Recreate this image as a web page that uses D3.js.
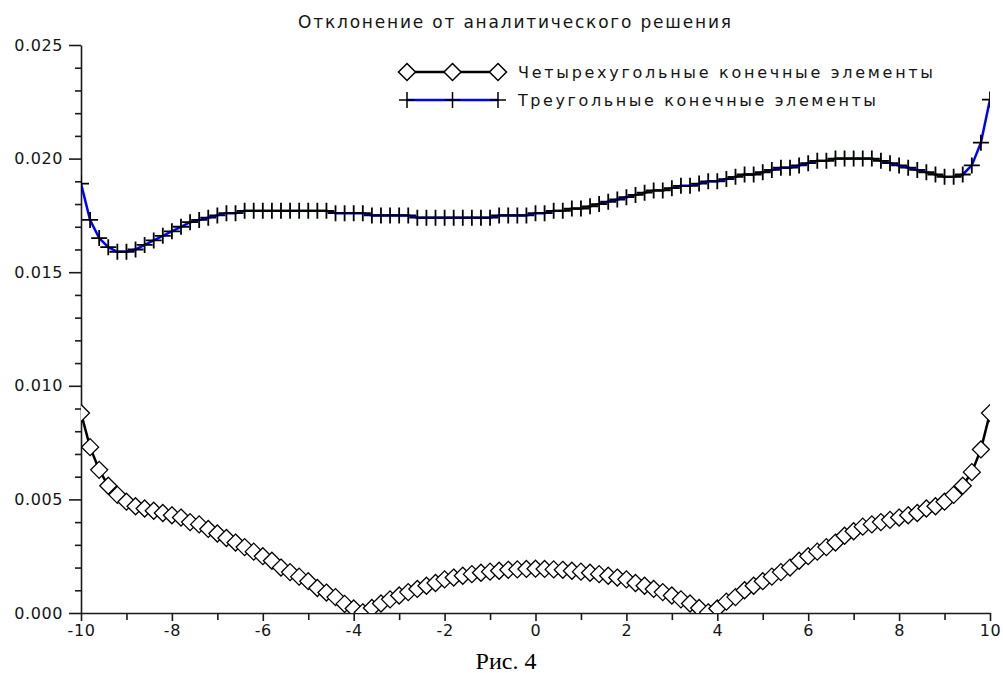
<!DOCTYPE html>
<html>
<head>
<meta charset="utf-8">
<script src="https://cdn.jsdelivr.net/npm/d3@7"></script>
<style>
    body { margin: 0; background: #fff; }
    svg { display: block; }
</style>
</head>
<body>
<div id="chart"></div>
<script>
// x points of the mesh (step 0.2)
const xs = [
    -10, -9.8, -9.6, -9.4, -9.2, -9, -8.8, -8.6, -8.4, -8.2,
    -8, -7.8, -7.6, -7.4, -7.2, -7, -6.8, -6.6, -6.4, -6.2,
    -6, -5.8, -5.6, -5.4, -5.2, -5, -4.8, -4.6, -4.4, -4.2,
    -4, -3.8, -3.6, -3.4, -3.2, -3, -2.8, -2.6, -2.4, -2.2,
    -2, -1.8, -1.6, -1.4, -1.2, -1, -0.8, -0.6, -0.4, -0.2,
    0, 0.2, 0.4, 0.6, 0.8, 1, 1.2, 1.4, 1.6, 1.8,
    2, 2.2, 2.4, 2.6, 2.8, 3, 3.2, 3.4, 3.6, 3.8,
    4, 4.2, 4.4, 4.6, 4.8, 5, 5.2, 5.4, 5.6, 5.8,
    6, 6.2, 6.4, 6.6, 6.8, 7, 7.2, 7.4, 7.6, 7.8,
    8, 8.2, 8.4, 8.6, 8.8, 9, 9.2, 9.4, 9.6, 9.8,
    10
]

// quadrilateral elements
const quadErr = [
    0.0088, 0.0073, 0.0063, 0.0056, 0.0052, 0.0049, 0.0047, 0.0046, 0.0045, 0.0044,
    0.0043, 0.0042, 0.0040, 0.0039, 0.0037, 0.0035, 0.0033, 0.0031, 0.0029, 0.0027,
    0.0025, 0.0023, 0.0020, 0.0018, 0.0016, 0.0014, 0.0011, 0.0009, 0.0007, 0.0004,
    0.0002, 0.00003, 0.00022, 0.00042, 0.0006, 0.00077, 0.00092, 0.00106, 0.0012, 0.00132,
    0.00148, 0.00156, 0.00164, 0.00171, 0.00177, 0.00182, 0.00186, 0.0019, 0.00192, 0.00194,
    0.00195, 0.00194, 0.00192, 0.0019, 0.00186, 0.00182, 0.00177, 0.00171, 0.00164, 0.00156,
    0.00148, 0.00132, 0.0012, 0.00106, 0.00092, 0.00077, 0.0006, 0.00042, 0.00022, 0.00003,
    0.0002, 0.0005, 0.0007, 0.0010, 0.0012, 0.0014, 0.0016, 0.0018, 0.0020, 0.0023,
    0.0025, 0.0027, 0.0029, 0.0031, 0.0034, 0.0036, 0.0038, 0.0039, 0.0040, 0.0041,
    0.0042, 0.0043, 0.0044, 0.0046, 0.0047, 0.0049, 0.0052, 0.0056, 0.0062, 0.0072,
    0.0088
]

// triangular elements
const triErr = [
    0.0189, 0.0173, 0.0165, 0.0161, 0.0159, 0.0159, 0.0160, 0.0162, 0.0164, 0.0166,
    0.0168, 0.0170, 0.0172, 0.0173, 0.0174, 0.0175, 0.0176, 0.0176, 0.0177, 0.0177,
    0.0177, 0.0177, 0.0177, 0.0177, 0.0177, 0.0177, 0.0177, 0.0177, 0.0176, 0.0176,
    0.0176, 0.0176, 0.0175, 0.0175, 0.0175, 0.0175, 0.0175, 0.0174, 0.0174, 0.0174,
    0.0174, 0.0174, 0.0174, 0.0174, 0.0174, 0.0174, 0.0175, 0.0175, 0.0175, 0.0175,
    0.0176, 0.0176, 0.0177, 0.0177, 0.0178, 0.0178, 0.0179, 0.0180, 0.0181, 0.0182,
    0.0183, 0.0184, 0.0185, 0.0186, 0.0186, 0.0187, 0.0188, 0.0188, 0.0189, 0.0190,
    0.0190, 0.0191, 0.0192, 0.0193, 0.0193, 0.0194, 0.0195, 0.0196, 0.0196, 0.0197,
    0.0198, 0.0199, 0.0199, 0.0200, 0.0200, 0.0200, 0.0200, 0.0200, 0.0199, 0.0198,
    0.0197, 0.0196, 0.0195, 0.0194, 0.0193, 0.0192, 0.0192, 0.0193, 0.0197, 0.0207,
    0.0226
]

const xTickValues = [-10, -8, -6, -4, -2, 0, 2, 4, 6, 8, 10]
const xTickLabels = ["-10", "-8", "-6", "-4", "-2", "0", "2", "4", "6", "8", "10"]
const yTickValues = [0, 0.005, 0.010, 0.015, 0.020, 0.025]
const yTickLabels = ["0.000", "0.005", "0.010", "0.015", "0.020", "0.025"]

const titleText = "Отклонение от аналитического решения"
const legendLabels = ["Четырехугольные конечные элементы", "Треугольные конечные элементы"]
const captionText = "Рис. 4"

const W = 1003, H = 673
const plot = { left: 81, right: 990, top: 45, bottom: 613 }
const font = "'DejaVu Sans', sans-serif"
const axisColor = "#1a1a1a"
const textColor = "#151515"

let svg = d3.select("#chart")
    .append("svg")
    .attr("width", W)
    .attr("height", H)

// markers are cut at the plot borders
svg.append("defs").append("clipPath")
    .attr("id", "plotClip")
    .append("rect")
    .attr("x", plot.left)
    .attr("y", 0)
    .attr("width", plot.right - plot.left)
    .attr("height", plot.bottom)

const xScale = d3.scaleLinear().domain([-10, 10]).range([plot.left, plot.right])
const yScale = d3.scaleLinear().domain([0, 0.025]).range([plot.bottom, plot.top])

// title
svg.append("text")
    .attr("x", 298)
    .attr("y", 28)
    .attr("textLength", 433)
    .attr("lengthAdjust", "spacing")
    .style("font-family", font)
    .style("font-size", "17px")
    .style("fill", textColor)
    .text(titleText)

// minor ticks
svg.append("g")
    .attr("transform", "translate(0," + plot.bottom + ")")
    .call(d3.axisBottom(xScale).tickValues(d3.range(-9, 10, 2)).tickSize(7).tickFormat(""))
    .call(g => g.select(".domain").remove())

svg.append("g")
    .attr("transform", "translate(" + plot.left + ",0)")
    .call(d3.axisLeft(yScale).tickValues(d3.range(0.001, 0.025, 0.001).filter(v => Math.round(v * 1000) % 5 !== 0)).tickSize(6).tickFormat(""))
    .call(g => g.select(".domain").remove())

// main axes
svg.append("g")
    .attr("transform", "translate(0," + plot.bottom + ")")
    .call(d3.axisBottom(xScale).tickValues(xTickValues).tickSize(8).tickSizeOuter(0).tickPadding(4)
        .tickFormat((d, i) => xTickLabels[i]))

svg.append("g")
    .attr("transform", "translate(" + plot.left + ",0)")
    .call(d3.axisLeft(yScale).tickValues(yTickValues).tickSize(12).tickSizeOuter(0).tickPadding(6)
        .tickFormat((d, i) => yTickLabels[i]))

svg.selectAll(".tick line, .domain")
    .attr("stroke", axisColor)
    .attr("stroke-width", 1.6)

svg.selectAll(".tick text")
    .style("font-family", font)
    .style("font-size", "16px")
    .style("letter-spacing", "0.6px")
    .attr("fill", textColor)

// curves
const line = d3.line()
    .x((d, i) => xScale(xs[i]))
    .y(d => yScale(d))

const diamond = r => "M0," + (-r) + "L" + r + ",0L0," + r + "L" + (-r) + ",0Z"
const cross = r => "M" + (-r) + ",0H" + r + "M0," + (-r) + "V" + r

let curves = svg.append("g").attr("clip-path", "url(#plotClip)")

curves.append("path")
    .datum(quadErr)
    .attr("d", line)
    .attr("fill", "none")
    .attr("stroke", "#000")
    .attr("stroke-width", 2.5)

curves.append("g")
    .selectAll("path")
    .data(quadErr)
    .enter().append("path")
    .attr("transform", (d, i) => "translate(" + xScale(xs[i]) + "," + yScale(d) + ")")
    .attr("d", diamond(8.5))
    .attr("fill", "#fff")
    .attr("stroke", "#000")
    .attr("stroke-width", 1.3)

curves.append("path")
    .datum(triErr)
    .attr("d", line)
    .attr("fill", "none")
    .attr("stroke", "#0000ff")
    .attr("stroke-width", 2.5)

curves.append("g")
    .selectAll("path")
    .data(triErr)
    .enter().append("path")
    .attr("transform", (d, i) => "translate(" + xScale(xs[i]) + "," + yScale(d) + ")")
    .attr("d", cross(8))
    .attr("fill", "none")
    .attr("stroke", "#000")
    .attr("stroke-width", 1.8)

// legend
const legendRows = [
    { label: legendLabels[0], y: 72, color: "#000", marker: diamond(8.5), fill: "#fff", len: 415 },
    { label: legendLabels[1], y: 100, color: "#0000ff", marker: cross(8), fill: "none", len: 358 }
]
const legendX = [407, 452.5, 498]

let legend = svg.append("g")
    .selectAll("g")
    .data(legendRows)
    .enter().append("g")

legend.append("line")
    .attr("x1", legendX[0])
    .attr("x2", legendX[2])
    .attr("y1", d => d.y)
    .attr("y2", d => d.y)
    .attr("stroke", d => d.color)
    .attr("stroke-width", 2.5)

legend.each(function (row) {
    d3.select(this).selectAll(".mark")
        .data(legendX)
        .enter().append("path")
        .attr("class", "mark")
        .attr("transform", lx => "translate(" + lx + "," + row.y + ")")
        .attr("d", row.marker)
        .attr("fill", row.fill)
        .attr("stroke", "#000")
        .attr("stroke-width", 1.5)
})

legend.append("text")
    .attr("x", 518)
    .attr("y", d => d.y)
    .attr("dy", "0.35em")
    .attr("textLength", d => d.len)
    .attr("lengthAdjust", "spacing")
    .style("font-family", font)
    .style("font-size", "16px")
    .style("fill", textColor)
    .text(d => d.label)

// caption under the figure
svg.append("text")
    .attr("x", 506)
    .attr("y", 669)
    .attr("text-anchor", "middle")
    .style("font-family", "'Liberation Serif', 'Times New Roman', serif")
    .style("font-size", "24px")
    .style("fill", "#000")
    .text(captionText)
</script>
</body>
</html>
